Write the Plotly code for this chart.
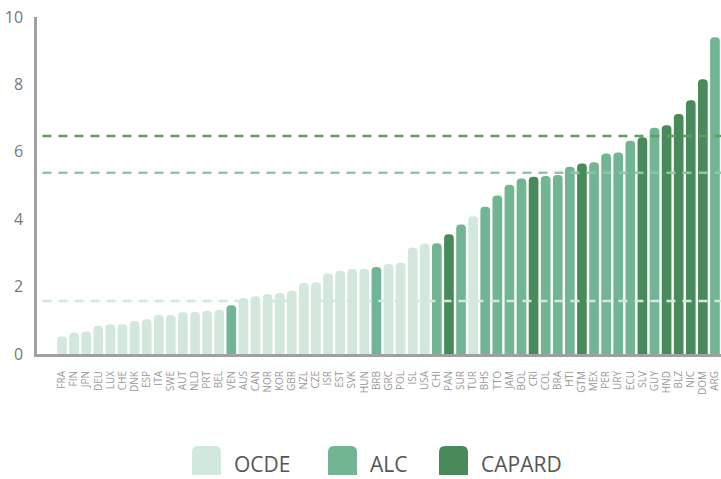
import plotly.graph_objects as go

countries = ["FRA","FIN","JPN","DEU","LUX","CHE","DNK","ESP","ITA","SWE","AUT","NLD","PRT","BEL","VEN",
             "AUS","CAN","NOR","KOR","GBR","NZL","CZE","ISR","EST","SVK","HUN","BRB","GRC","POL","ISL",
             "USA","CHI","PAN","SUR","TUR","BHS","TTO","JAM","BOL","CRI","COL","BRA","HTI","GTM","MEX",
             "PER","URY","ECU","SLV","GUY","HND","BLZ","NIC","DOM","ARG"]
values = [0.52,0.64,0.67,0.84,0.88,0.88,0.98,1.03,1.16,1.16,1.24,1.25,1.28,1.31,1.45,
          1.66,1.71,1.78,1.81,1.88,2.11,2.13,2.39,2.47,2.52,2.53,2.58,2.67,2.71,3.16,
          3.28,3.29,3.55,3.84,4.09,4.37,4.70,5.02,5.21,5.26,5.28,5.31,5.56,5.65,5.69,
          5.95,5.98,6.33,6.43,6.71,6.79,7.12,7.53,8.15,9.40]
groups = (["OCDE"]*14 + ["ALC"] + ["OCDE"]*11 + ["ALC"] + ["OCDE"]*4 +
          ["ALC","CAPARD","ALC","OCDE","ALC","ALC","ALC","ALC","CAPARD","ALC","ALC","ALC","CAPARD","ALC",
           "ALC","ALC","ALC","CAPARD","ALC","CAPARD","CAPARD","CAPARD","CAPARD","ALC"])
group_names = ["OCDE", "ALC", "CAPARD"]
group_means = [1.57, 5.38, 6.47]
y_ticks = [0, 2, 4, 6, 8, 10]

bar_colors = {"OCDE": "#d3e8dc", "ALC": "#72b592", "CAPARD": "#498a5a"}
line_colors = {"OCDE": "#d3e8dc", "ALC": "#8fc6a8", "CAPARD": "#5f9e5f"}

W, H = 721, 479
ML, MR, MT, MB = 37, 0, 17, 125
PW, PH = W - ML - MR, H - MT - MB

def px_x(px):
    return (px - ML) / PW

def px_y(py):
    return (H - MB - py) / PH

fig = go.Figure()
fig.add_trace(go.Bar(
    x=countries, y=values,
    marker=dict(color=[bar_colors[g] for g in groups], line=dict(width=0)),
    hoverinfo="x+y", showlegend=False,
))

shapes = []
for g, m in zip(group_names, group_means):
    shapes.append(dict(type="line", xref="paper", yref="y", x0=0.008, x1=1, y0=m, y1=m,
                       line=dict(color=line_colors[g], width=2.5, dash="9px,7px"), layer="above"))

# legend: rounded-top squares + text
legend_x = [192, 328, 439]
annotations = []
for g, lx in zip(group_names, legend_x):
    s = 29
    r = 6
    path = (f"M0,0 L0,{s-r} Q0,{s} {r},{s} L{s-r},{s} Q{s},{s} {s},{s-r} L{s},0 Z")
    shapes.append(dict(type="path", xref="paper", yref="paper", xsizemode="pixel", ysizemode="pixel",
                       xanchor=px_x(lx), yanchor=px_y(475), path=path,
                       fillcolor=bar_colors[g], line=dict(width=0)))
    annotations.append(dict(text=g, xref="paper", yref="paper", x=px_x(lx + s + 11), y=px_y(464),
                            xanchor="left", yanchor="middle", showarrow=False,
                            font=dict(size=21, color="#555555", family="Open Sans")))

fig.update_layout(
    width=W, height=H,
    margin=dict(l=ML, r=MR, t=MT, b=MB),
    paper_bgcolor="white", plot_bgcolor="white",
    bargap=0.2, barcornerradius=5,
    shapes=shapes, annotations=annotations,
    font=dict(family="Open Sans", color="#777777"),
)
fig.update_xaxes(
    type="category", range=[-2.07, 54.5], tickangle=-90,
    tickmode="array", tickvals=countries, ticktext=countries,
    tickfont=dict(size=10, color="#999999"), showgrid=False,
    showline=True, linecolor="#a0a0a0", linewidth=3, ticks="", ticklabelstandoff=10,
)
fig.update_yaxes(
    range=[0, 10], tickvals=y_ticks, tickfont=dict(size=16, color="#777777"),
    showgrid=False, zeroline=False, showline=True, linecolor="#a0a0a0", linewidth=2.5,
    ticks="", ticklabelstandoff=8,
)

fig.write_html("out.html", config={"displayModeBar": False},
               post_script="document.body.style.margin='0';document.body.style.overflow='hidden';")
